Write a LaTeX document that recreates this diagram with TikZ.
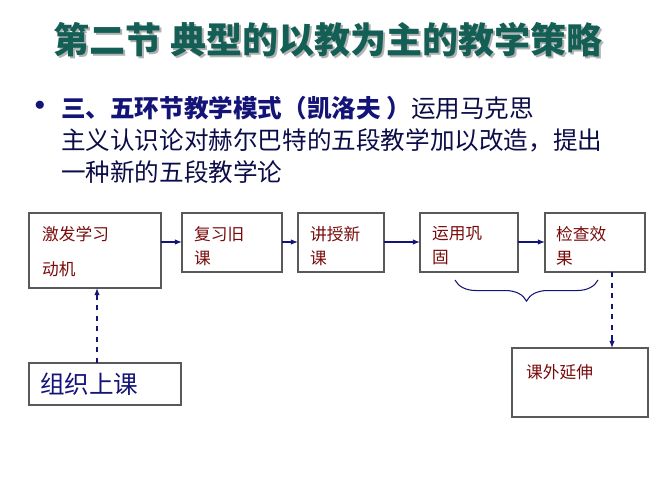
\documentclass[tikz,border=0pt]{standalone}
\usepackage{fontspec}
\newfontfamily\cjk{Noto Sans CJK SC}
\usetikzlibrary{positioning, arrows.meta, decorations.pathreplacing}
\definecolor{titlegreen}{RGB}{20,95,85}
\definecolor{navy}{RGB}{20,20,120}
\definecolor{boxred}{RGB}{120,10,10}
\tikzset{
x=0.02cm, y=-0.02cm,
stepbox/.style={draw=gray!70!black, line width=0.6pt, anchor=north west, inner sep=0pt}, % box with top left corner at the given point
boxtext/.style={anchor=north west, font=\cjk\fontsize{9.5}{14}\selectfont, text=boxred, align=left},
link/.style={-{Latex[length=4pt]}, draw=navy, line width=0.6pt},
dashlink/.style={link, dashed},
}
\begin{document}
\begin{tikzpicture}
\useasboundingbox (0,0) rectangle (667,500);
% title
\node[font=\cjk\bfseries\fontsize{20.5}{24}\selectfont, text=gray!60] at (330,42) {第二节\ 典型的以教为主的教学策略};
\node[font=\cjk\bfseries\fontsize{20.5}{24}\selectfont, text=titlegreen] (title) at (328,40) {第二节\ 典型的以教为主的教学策略};
% bullet text
\node[font=\fontsize{13}{13}\selectfont, text=navy] (dot) at (40,106) {$\bullet$};
\node[anchor=west, font=\cjk\fontsize{14}{18}\selectfont, text=navy!60!black, align=left] (intro) at (55,140)
  {{\bfseries\color{navy}三、五环节教学模式（凯洛夫 ）}运用马克思\\主义认识论对赫尔巴特的五段教学加以改造，提出\\一种新的五段教学论};
% boxes
\draw[stepbox] (29,213) rectangle (161,288);
\node[boxtext] (t1) at (36,220) {激发学习\\[6pt]动机};
\coordinate (b1r) at (161,242); \coordinate (b1b) at (97,288);
\draw[stepbox] (182,213) rectangle (282,272);
\node[boxtext] (t2) at (188,220) {复习旧\\课};
\coordinate (b2l) at (182,242); \coordinate (b2r) at (282,242);
\draw[stepbox] (298,213) rectangle (384,272);
\node[boxtext] (t3) at (304,220) {讲授新\\课};
\coordinate (b3l) at (298,242); \coordinate (b3r) at (384,242);
\draw[stepbox] (420,213) rectangle (518,272);
\node[boxtext] (t4) at (426,220) {运用巩\\固};
\coordinate (b4l) at (420,242); \coordinate (b4r) at (518,242);
\draw[stepbox] (545,213) rectangle (645,272);
\node[boxtext] (t5) at (550,220) {检查效\\果};
\coordinate (b5l) at (545,242); \coordinate (b5b) at (612,272);
\draw[stepbox] (512,348) rectangle (648,417);
\node[boxtext] (t6) at (520,358) {课外延伸};
\coordinate (b6t) at (612,348);
\draw[stepbox] (29,363) rectangle (181,405);
\node[anchor=west, font=\cjk\fontsize{14}{16}\selectfont, text=navy] (start) at (34,384) {组织上课};
\coordinate (b0t) at (97,363);
% connectors
\draw[link] (b1r) -- (b2l);
\draw[link] (b2r) -- (b3l);
\draw[link] (b3r) -- (b4l);
\draw[link] (b4r) -- (b5l);
\draw[dashlink] (b0t) -- (b1b);
\draw[dashlink] (b5b) -- (b6t);
\draw[navy, line width=0.6pt, decorate, decoration={brace, amplitude=12pt}] (598,280) -- (455,280);
\end{tikzpicture}
\end{document}
